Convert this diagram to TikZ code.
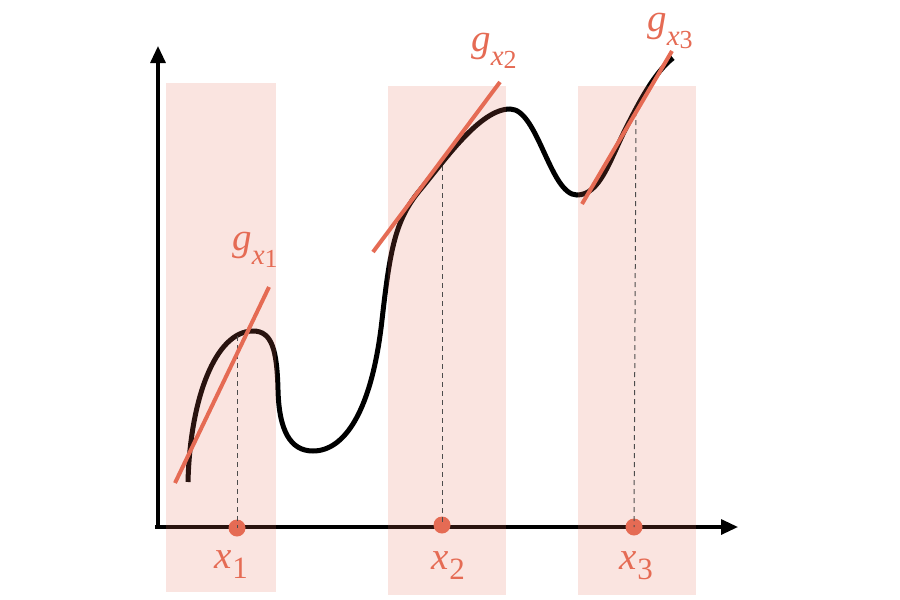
\documentclass[tikz,border=0pt]{standalone}
\usepackage{fontspec}
\setmainfont{Liberation Serif}
\usetikzlibrary{arrows.meta}
\definecolor{accent}{RGB}{229,107,84}
\newcommand\glab[1]{\fontsize{39}{39}\selectfont\textit{g}\raisebox{-14pt}{\fontsize{29}{29}\selectfont\textit{x}\raisebox{-3pt}{\fontsize{26}{26}\selectfont #1}}}
\newcommand\xlab[1]{\fontsize{39}{39}\selectfont\textit{x}\kern1pt\raisebox{-10pt}{\fontsize{31}{31}\selectfont #1}}
\begin{document}
\begin{tikzpicture}[x=1pt,y=-1pt,
  axis/.style={line width=3.2pt,-{Triangle[length=17pt,width=15pt]}},
  band/.style={fill=accent,opacity=0.18},
  fcurve/.style={line width=5pt,black},
  tangent/.style={line width=4pt,accent},
  guide/.style={line width=1pt,dash pattern=on 5pt off 4pt,black!70},
  dot/.style={circle,fill=accent,inner sep=0pt,minimum size=17pt},
  lab/.style={text=accent,inner sep=0pt}]
\useasboundingbox (0,0) rectangle (900,600);
% axes
\coordinate (O) at (158,527);
\coordinate (Ox) at (155,527);
\coordinate (ytip) at (158,46);
\coordinate (xtip) at (738,527);
\draw[axis] (O) -- (ytip);
\draw[axis] (Ox) -- (xtip);
% curve
\coordinate (s0) at (188,482);
\coordinate (p1) at (253,331);
\coordinate (s1) at (278,390);
\coordinate (m1) at (313,451);
\coordinate (s2) at (382,320);
\coordinate (s3) at (420,190);
\coordinate (p2) at (510,109);
\coordinate (m2) at (577,195);
\coordinate (s4) at (625,130);
\coordinate (s5) at (673,58);
\draw[fcurve]
  (s0) .. controls (190,400) and (215,331) .. (p1)
       .. controls (272,331) and (277,350) .. (s1)
       .. controls (279,430) and (290,451) .. (m1)
       .. controls (345,451) and (372,410) .. (s2)
       .. controls (390,250) and (395,220) .. (s3)
       .. controls (445,160) and (480,109) .. (p2)
       .. controls (538,109) and (550,195) .. (m2)
       .. controls (600,195) and (610,160) .. (s4)
       .. controls (640,100) and (655,72) .. (s5);
% bands
\fill[band] (166,83) rectangle (276,592);
\fill[band] (388,86) rectangle (506,595);
\fill[band] (578,86) rectangle (696,595);
% points on the x axis
\node[dot] (d1) at (237,528) {};
\node[dot] (d2) at (442,525) {};
\node[dot] (d3) at (634,527) {};
% points on the curve
\coordinate (c1) at (237,336);
\coordinate (c2) at (442,157);
\coordinate (c3) at (636,111);
\draw[guide] (c1) -- (d1.center);
\draw[guide] (c2) -- (d2.center);
\draw[guide] (c3) -- (d3.center);
% tangents
\coordinate (t1a) at (175,483);
\coordinate (t1b) at (269,287);
\coordinate (t2a) at (373,252);
\coordinate (t2b) at (500,82);
\coordinate (t3a) at (582,204);
\coordinate (t3b) at (672,51);
\draw[tangent] (t1a) -- (t1b);
\draw[tangent] (t2a) -- (t2b);
\draw[tangent] (t3a) -- (t3b);
% labels
\node[lab] (gx1) at (255,250) {\glab{1}};
\node[lab] (gx2) at (494,51) {\glab{2}};
\node[lab] (gx3) at (670,31) {\glab{3}};
\node[lab] (lx1) at (231,565) {\xlab{1}};
\node[lab] (lx2) at (448,566) {\xlab{2}};
\node[lab] (lx3) at (636,566) {\xlab{3}};
\end{tikzpicture}
\end{document}
